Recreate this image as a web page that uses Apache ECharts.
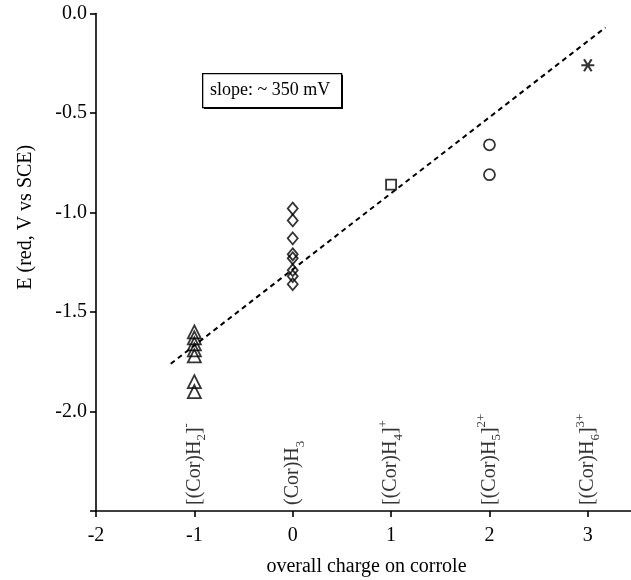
<!DOCTYPE html>
<html><head><meta charset="utf-8">
<script src="https://cdn.jsdelivr.net/npm/echarts@6/dist/echarts.min.js"></script>
<style>html,body{margin:0;padding:0;background:#fff}#c{width:631px;height:580px}</style>
</head><body><div id="c"></div>
<script>
// ---- data ----
const triX = [-1, -1, -1, -1, -1, -1, -1];
const triY = [-1.60, -1.63, -1.66, -1.69, -1.72, -1.85, -1.90];
const diaX = [0, 0, 0, 0, 0, 0, 0, 0];
const diaY = [-0.98, -1.04, -1.13, -1.21, -1.23, -1.29, -1.32, -1.36];
const sqX = [1];
const sqY = [-0.86];
const circX = [2, 2];
const circY = [-0.66, -0.81];
const starX = [3];
const starY = [-0.26];
const fitX = [-1.24, 3.18];
const fitY = [-1.76, -0.07];
const speciesX = [-1, 0, 1, 2, 3];
const speciesLabels = [
  '[(Cor)H{sub|2}]{sup|-}',
  '(Cor)H{sub|3}',
  '[(Cor)H{sub|4}]{sup|+}',
  '[(Cor)H{sub|5}]{sup|2+}',
  '[(Cor)H{sub|6}]{sup|3+}'
];
const xTicks = [-2, -1, 0, 1, 2, 3];
const yTicks = [0.0, -0.5, -1.0, -1.5, -2.0];
const slopeText = 'slope: ~ 350 mV';
const xTitle = 'overall charge on corrole';
const yTitle = 'E (red, V vs SCE)';

const zip = (a, b) => a.map((v, i) => [v, b[i]]);
const FONT = 'Liberation Serif';
const markStyle = { color: 'rgba(0,0,0,0)', borderColor: '#000', borderWidth: 1.8 };

const chart = echarts.init(document.getElementById('c'), null, { renderer: 'canvas' });
chart.setOption({
  animation: false,
  backgroundColor: '#fff',
  grid: { left: 96, top: 13.5, height: 497.5, width: 541, containLabel: false, outerBoundsMode: 'none' },
  xAxis: {
    type: 'value', min: -2, max: 3.5, interval: 1,
    name: xTitle, nameLocation: 'middle', nameGap: 46,
    nameTextStyle: { fontFamily: FONT, fontSize: 20, color: '#000', padding: [0, 0, 0, 0] },
    axisLine: { show: true, onZero: false, lineStyle: { color: '#000', width: 1.6 } },
    axisTick: { show: true, length: 6, lineStyle: { color: '#000', width: 1.6 } },
    axisLabel: {
      margin: 15, fontFamily: FONT, fontSize: 20, color: '#000',
      formatter: v => xTicks.includes(v) ? String(v) : ''
    },
    splitLine: { show: false }
  },
  yAxis: {
    type: 'value', min: -2.5, max: 0, interval: 0.5,
    name: yTitle, nameLocation: 'middle', nameGap: 60,
    nameTextStyle: { fontFamily: FONT, fontSize: 20, color: '#000', padding: [0, 0, 0, 90] },
    axisLine: { show: true, onZero: false, lineStyle: { color: '#000', width: 1.6 } },
    axisTick: { show: true, length: 6, lineStyle: { color: '#000', width: 1.6 } },
    axisLabel: {
      margin: 9, fontFamily: FONT, fontSize: 20, color: '#000',
      formatter: v => yTicks.some(t => Math.abs(t - v) < 1e-9) ? v.toFixed(1) : ''
    },
    splitLine: { show: false }
  },
  series: [
    { type: 'line', data: zip(fitX, fitY), symbol: 'none', silent: true,
      lineStyle: { color: '#000', width: 2, type: [5, 4] }, z: 1 },
    { type: 'scatter', data: zip(triX, triY), symbol: 'triangle', symbolSize: [13, 13], itemStyle: markStyle, z: 3 },
    { type: 'scatter', data: zip(diaX, diaY), symbol: 'diamond', symbolSize: [10, 12], itemStyle: markStyle, z: 3 },
    { type: 'scatter', data: zip(sqX, sqY), symbol: 'rect', symbolSize: 10, itemStyle: markStyle, z: 3 },
    { type: 'scatter', data: zip(circX, circY), symbol: 'circle', symbolSize: 11, itemStyle: markStyle, z: 3 },
    { type: 'scatter', data: zip(starX, starY),
      symbol: 'path://M-6,0L6,0M-3.5,-5.5L3.5,5.5M-3.5,5.5L3.5,-5.5', symbolSize: [13, 12],
      itemStyle: { color: 'rgba(0,0,0,0)', borderColor: '#000', borderWidth: 2 }, z: 3 },
    { type: 'scatter', silent: true, symbolSize: 0,
      data: speciesX.map((x, i) => ({ value: [x, -2.47], label: { formatter: speciesLabels[i] } })),
      label: {
        show: true, position: 'inside', rotate: 90, align: 'left', verticalAlign: 'middle',
        fontFamily: FONT, fontSize: 20, color: '#000', lineHeight: 28,
        rich: {
          sub: { fontFamily: FONT, fontSize: 13, color: '#000', verticalAlign: 'bottom', lineHeight: 20 },
          sup: { fontFamily: FONT, fontSize: 13, color: '#000', verticalAlign: 'top', lineHeight: 22 }
        }
      }, z: 2 }
  ],
  graphic: [
    { type: 'rect', left: 204, top: 75, shape: { width: 139, height: 34 }, style: { fill: '#000' }, z: 10 },
    { type: 'rect', left: 202, top: 73, shape: { width: 139, height: 34 },
      style: { fill: '#fff', stroke: '#000', lineWidth: 1.3 }, z: 11 },
    { type: 'text', left: 210, top: 81, style: { text: slopeText, font: '18px "Liberation Serif"', fill: '#000' }, z: 12 }
  ]
});
</script></body></html>
